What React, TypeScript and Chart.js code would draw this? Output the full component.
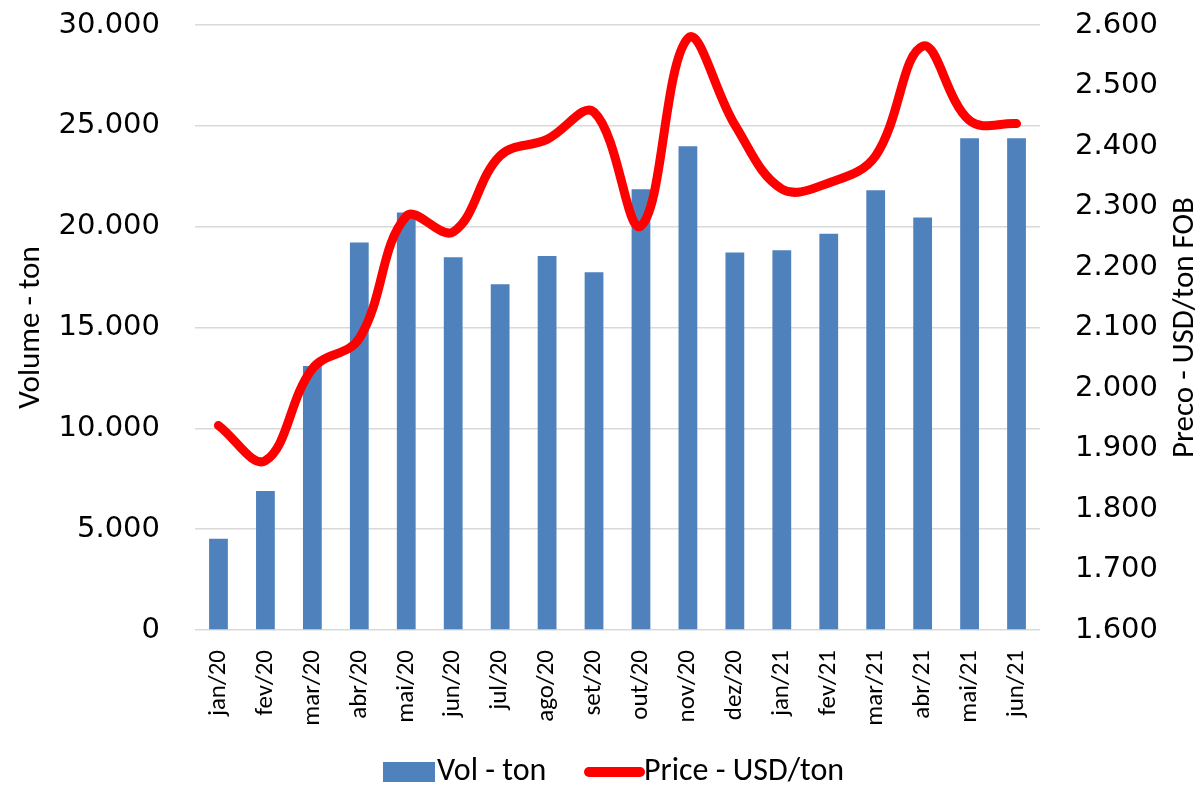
import React, { useEffect, useRef } from "react";
import { Chart, registerables } from "chart.js";

Chart.register(...registerables);

const categories = ["jan/20", "fev/20", "mar/20", "abr/20", "mai/20", "jun/20", "jul/20", "ago/20", "set/20", "out/20", "nov/20", "dez/20", "jan/21", "fev/21", "mar/21", "abr/21", "mai/21", "jun/21"];
const volumeTon = [4530, 6890, 13090, 19220, 20700, 18480, 17140, 18540, 17740, 21850, 23990, 18720, 18830, 19650, 21810, 20450, 24380, 24380];
const priceUsdTon = [1938, 1880, 2032, 2082, 2284, 2258, 2384, 2411, 2456, 2268, 2578, 2435, 2329, 2339, 2384, 2565, 2442, 2437];

const volumeLabel = "Vol - ton";
const priceLabel = "Price - USD/ton";
const leftTitle = "Volume - ton";
const rightTitle = "Preco - USD/ton FOB";

const fmt = (v: number) => String(Math.round(v)).replace(/\B(?=(\d{3})+(?!\d))/g, ".");

const TITLE_FONT = "Carlito, Lato, sans-serif";

const customDraw = {
  id: "customDraw",
  afterDraw(chart: any) {
    const ctx = chart.ctx;
    const area = chart.chartArea;
    const cy = (area.top + area.bottom) / 2;
    ctx.save();
    ctx.fillStyle = "#000";
    ctx.font = `31px ${TITLE_FONT}`;
    ctx.textAlign = "center";
    ctx.textBaseline = "middle";
    // left title
    ctx.save();
    ctx.translate(31, cy);
    ctx.rotate(-Math.PI / 2);
    ctx.fillText(leftTitle, 0, 0);
    ctx.restore();
    // right title
    ctx.save();
    ctx.translate(1185, cy);
    ctx.rotate(-Math.PI / 2);
    ctx.fillText(rightTitle, 0, 0);
    ctx.restore();

    // legend
    const ly = 772;
    ctx.font = `32px ${TITLE_FONT}`;
    ctx.textAlign = "left";
    ctx.fillStyle = "#4f81bd";
    ctx.fillRect(383, ly - 10, 52, 20);
    ctx.fillStyle = "#000";
    ctx.fillText(volumeLabel, 437, ly);
    ctx.strokeStyle = "#ff0000";
    ctx.lineWidth = 10;
    ctx.lineCap = "round";
    ctx.beginPath();
    ctx.moveTo(589, ly);
    ctx.lineTo(640, ly);
    ctx.stroke();
    ctx.fillText(priceLabel, 644, ly);
    ctx.restore();
  },
};

const noVPad = (scale: any) => {
  scale.paddingTop = 0;
  scale.paddingBottom = 0;
};

export default function App() {
  const ref = useRef<HTMLCanvasElement | null>(null);
  useEffect(() => {
    if (!ref.current) return;
    const chart = new Chart(ref.current, {
      type: "bar",
      data: {
        labels: categories,
        datasets: [
          {
            type: "line",
            label: priceLabel,
            data: priceUsdTon,
            yAxisID: "y1",
            borderColor: "#ff0000",
            backgroundColor: "#ff0000",
            borderWidth: 9,
            borderCapStyle: "round",
            borderJoinStyle: "round",
            pointRadius: 0,
            tension: 0.38,
            order: 0,
          } as any,
          {
            type: "bar",
            label: volumeLabel,
            data: volumeTon,
            yAxisID: "y",
            backgroundColor: "#4f81bd",
            barPercentage: 0.4,
            categoryPercentage: 1,
            order: 1,
          },
        ],
      },
      options: {
        responsive: false,
        animation: false,
        layout: { padding: { top: 25, bottom: 45, left: 0, right: 0 } },
        plugins: { legend: { display: false }, tooltip: { enabled: false } },
        scales: {
          x: {
            grid: { display: false },
            border: { display: false },
            ticks: {
              minRotation: 90,
              maxRotation: 90,
              padding: 12,
              color: "#000",
              font: { family: TITLE_FONT, size: 25 },
            },
            afterFit(scale: any) {
              scale.height = 115;
              scale.paddingLeft = 0;
              scale.paddingRight = 0;
            },
          },
          y: {
            position: "left",
            min: 0,
            max: 30000,
            grid: { color: "#d9d9d9", lineWidth: 1.5, drawTicks: false },
            border: { display: false },
            ticks: {
              stepSize: 5000,
              padding: 35,
              color: "#000",
              font: { family: "DejaVu Sans", size: 29 },
              callback: (v: any) => fmt(Number(v)),
            },
            afterFit(scale: any) {
              scale.width = 195;
              noVPad(scale);
            },
          },
          y1: {
            position: "right",
            min: 1600,
            max: 2600,
            grid: { display: false, drawTicks: false },
            border: { display: false },
            ticks: {
              stepSize: 100,
              padding: 35,
              color: "#000",
              font: { family: "DejaVu Sans", size: 29 },
              callback: (v: any) => fmt(Number(v)),
            },
            afterFit(scale: any) {
              scale.width = 160;
              noVPad(scale);
            },
          },
        },
      },
      plugins: [customDraw],
    } as any);
    return () => chart.destroy();
  }, []);
  return (
    <div style={{ position: "fixed", left: 0, top: 0, width: 1200, height: 790, background: "#fff" }}>
      <canvas ref={ref} width={1200} height={790} style={{ display: "block" }} />
    </div>
  );
}
